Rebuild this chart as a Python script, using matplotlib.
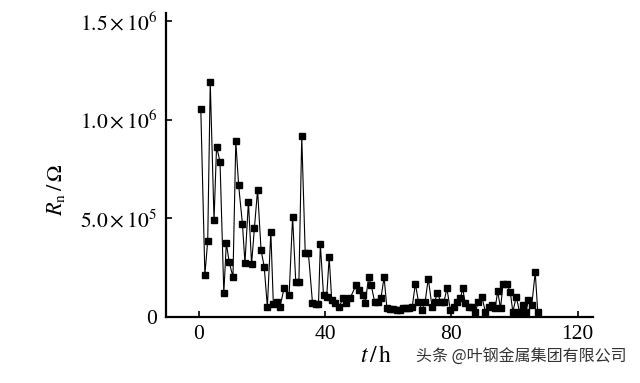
import numpy as np
import matplotlib
matplotlib.use('Agg')
import matplotlib.pyplot as plt

plt.rcParams['font.family'] = ['Liberation Serif', 'DejaVu Serif']
plt.rcParams['mathtext.fontset'] = 'stix'
plt.rcParams['font.size'] = 15

# time (h) and noise resistance (kOhm)
t_h = [0.6, 1.9, 2.8, 3.6, 4.8, 5.6, 6.7, 7.9, 8.7, 9.6,
       10.8, 11.7, 12.6, 13.8, 14.6, 15.7, 16.7, 17.6, 18.6, 19.7,
       20.7, 21.7, 22.8, 23.6, 24.7, 25.7, 27.0, 28.6, 29.7, 30.7,
       31.7, 32.6, 33.7, 34.7, 36.0, 37.0, 37.9, 38.5, 39.5, 40.5,
       41.3, 42.1, 43.2, 44.5, 45.6, 46.7, 47.9, 49.8, 50.9, 52.0,
       52.7, 53.8, 54.6, 55.7, 56.7, 57.7, 58.7, 59.6, 60.6, 61.6,
       62.7, 63.7, 64.7, 65.7, 66.7, 67.6, 68.6, 69.6, 70.7, 71.7,
       72.7, 73.9, 74.7, 75.6, 76.7, 77.7, 78.6, 79.7, 80.8, 81.8,
       82.9, 83.6, 84.4, 85.5, 86.6, 87.6, 88.6, 89.7, 90.8, 91.8,
       92.9, 93.9, 94.7, 95.6, 96.4, 97.7, 98.7, 99.5, 100.6, 101.6,
       102.7, 103.7, 104.4, 105.5, 106.6, 107.4]
rn_kohm = [1056, 213, 387, 1190, 492, 863, 787, 122, 375, 279,
           203, 890, 667, 472, 274, 585, 269, 452, 645, 340,
           255, 52, 430, 66, 78, 52, 146, 112, 508, 179,
           179, 915, 326, 326, 73, 66, 64, 369, 112, 103,
           303, 86, 69, 52, 95, 73, 95, 162, 137, 112,
           69, 203, 162, 78, 78, 95, 203, 44, 40, 40,
           38, 38, 44, 44, 44, 50, 169, 78, 36, 78,
           195, 52, 78, 120, 78, 78, 146, 36, 52, 78,
           95, 146, 73, 52, 52, 27, 78, 103, 27, 52,
           61, 44, 132, 44, 169, 166, 127, 27, 103, 27,
           61, 27, 86, 61, 227, 27]

ytick_vals = [0, 5.0e5, 1.0e6, 1.5e6]
ytick_labels = ['0', r'$5.0\times10^{5}$', r'$1.0\times10^{6}$', r'$1.5\times10^{6}$']
xtick_vals = [0, 40, 80, 120]

fig = plt.figure(figsize=(6.4, 3.83), dpi=100)
ax = fig.add_axes([0.259, 0.172, 0.668, 0.794])

rn = np.array(rn_kohm) * 1e3
ax.plot(t_h, rn, '-', color='black', lw=0.8,
        marker='s', markersize=5, markerfacecolor='black', markeredgecolor='black')

ax.set_xlim(-10.5, 125)
ax.set_ylim(0, 1.54e6)
ax.set_xticks(xtick_vals)
ax.set_yticks(ytick_vals)
ax.set_yticklabels(ytick_labels)
ax.tick_params(direction='in', length=4, width=1.2, pad=6, labelsize=15.5)

ax.spines['top'].set_visible(False)
ax.spines['right'].set_visible(False)
ax.spines['left'].set_linewidth(1.6)
ax.spines['bottom'].set_linewidth(1.6)

fig.text(0.088, 0.505, r'$R_{\mathrm{n}}\,/\,\Omega$', rotation=90,
         ha='center', va='center', fontsize=16)
fig.text(0.588, 0.068, r'$t\,/\,\mathrm{h}$', ha='center', va='center', fontsize=17)
fig.text(0.65, 0.068, '头条 @叶钢金属集团有限公司', ha='left', va='center',
         fontsize=11.5, color='#333333', family=['Noto Sans CJK SC', 'DejaVu Sans'])

fig.savefig('out.png', dpi=100)
